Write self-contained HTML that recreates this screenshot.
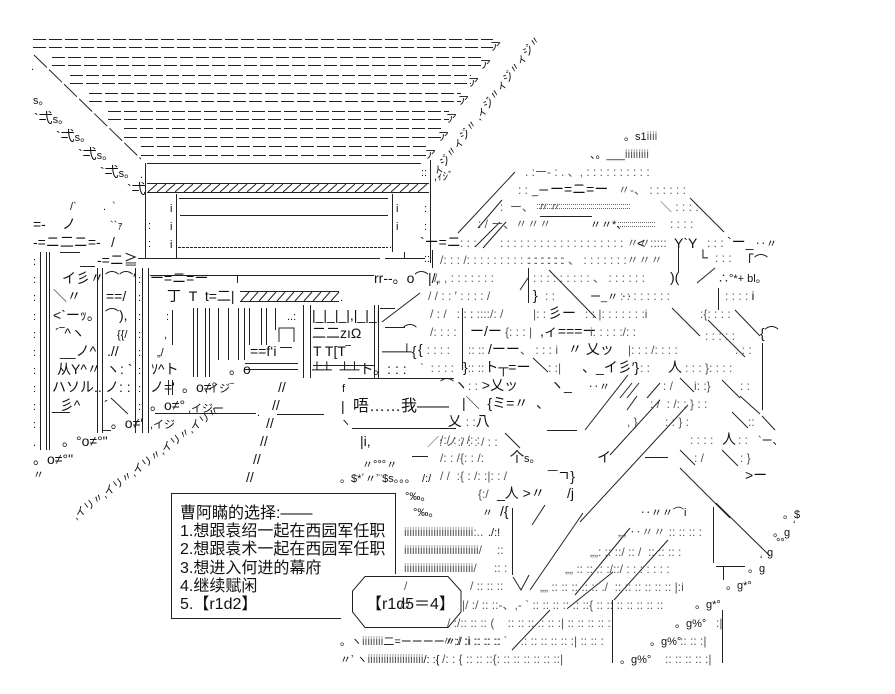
<!DOCTYPE html>
<html><head><meta charset="utf-8">
<style>
html,body{margin:0;padding:0;background:#fff;}
svg{display:block;}
text{font-family:"Liberation Sans","Noto Sans CJK JP",sans-serif;white-space:pre;fill:#111;font-size:14px;}
.s{font-size:11px;}
.d{font-size:12px;fill:#555;}
.c{font-family:"Liberation Sans","Noto Sans CJK SC",sans-serif;font-size:16px;fill:#111;}
line,path,polyline{stroke:#222;stroke-width:1;fill:none;}
.dash{stroke-dasharray:13 3;}
</style></head><body>
<svg width="895" height="694" viewBox="0 0 895 694" xmlns="http://www.w3.org/2000/svg" xml:space="preserve">
<rect width="895" height="694" fill="#fff"/>

<!-- ROOF -->
<g class="dash">
<line class="dash" x1="33" y1="39.5" x2="493" y2="39.5"/><line class="dash" x1="33" y1="47.5" x2="493" y2="47.5"/>
<line class="dash" x1="52" y1="57.5" x2="483" y2="57.5"/><line class="dash" x1="52" y1="65.5" x2="483" y2="65.5"/>
<line class="dash" x1="70" y1="75.5" x2="471" y2="75.5"/><line class="dash" x1="70" y1="83.5" x2="471" y2="83.5"/>
<line class="dash" x1="89" y1="93.5" x2="461" y2="93.5"/><line class="dash" x1="89" y1="101.5" x2="461" y2="101.5"/>
<line class="dash" x1="108" y1="111.5" x2="449" y2="111.5"/><line class="dash" x1="108" y1="119.5" x2="449" y2="119.5"/>
<line class="dash" x1="124" y1="128.5" x2="441" y2="128.5"/><line class="dash" x1="124" y1="137.5" x2="441" y2="137.5"/>
<line class="dash" x1="141" y1="146.5" x2="428" y2="146.5"/><line class="dash" x1="141" y1="155.5" x2="428" y2="155.5"/>
</g>
<text x="490" y="50" class="s">ア</text>
<text x="480" y="68" class="s">ア</text>
<text x="468" y="86" class="s">ア</text>
<text x="458" y="104" class="s">ア</text>
<text x="446" y="122" class="s">ア</text>
<text x="438" y="140" class="s">ア</text>
<text x="425" y="158" class="s">ア</text>
<line x1="34" y1="55" x2="141" y2="159" style="stroke-dasharray:18 3"/>
<text x="31" y="70" class="s">.</text>

<!-- diagonal chain upper right -->
<text x="438" y="176" class="s" transform="rotate(-53 438 176)">ィジ〃ィジ〃 ,ィジ〃ィジ〃ィジ〃</text>

<!-- stairs -->
<text x="33" y="104" class="s">s。</text>
<text x="34" y="123">`弌<tspan class="s">s。</tspan></text>
<text x="56" y="141">`弌<tspan class="s">s。</tspan></text>
<text x="78" y="159">`弌<tspan class="s">s。</tspan></text>
<text x="100" y="177">`弌<tspan class="s">s。</tspan></text>
<text x="127" y="194">`弌</text>

<!-- building -->
<line x1="147" y1="163.5" x2="421" y2="163.5"/>
<text x="140" y="178" class="s">.</text>
<text x="421" y="176" class="s">::</text>
<text x="434" y="180" class="s">,ｨｼﾞ</text>
<line x1="147" y1="183.5" x2="429" y2="183.5"/>
<line x1="147" y1="192.5" x2="429" y2="192.5"/>
<path d="M157,184 L148,192 M166,184 L157,192 M175,184 L166,192 M184,184 L175,192 M193,184 L184,192 M202,184 L193,192 M211,184 L202,192 M220,184 L211,192 M229,184 L220,192 M238,184 L229,192 M247,184 L238,192 M256,184 L247,192 M265,184 L256,192 M274,184 L265,192 M283,184 L274,192 M292,184 L283,192 M301,184 L292,192 M310,184 L301,192 M319,184 L310,192 M328,184 L319,192 M337,184 L328,192 M346,184 L337,192 M355,184 L346,192 M364,184 L355,192 M373,184 L364,192 M382,184 L373,192 M391,184 L382,192 M400,184 L391,192 M409,184 L400,192 M418,184 L409,192 M427,184 L418,192"/>
<line x1="145.5" y1="163" x2="145.5" y2="258"/>
<line x1="430.5" y1="160" x2="430.5" y2="263"/>
<line x1="176.5" y1="194" x2="176.5" y2="258"/>
<line x1="392.5" y1="194" x2="392.5" y2="252"/>
<line x1="179" y1="198.5" x2="388" y2="198.5"/>
<line x1="180" y1="215.5" x2="388" y2="215.5"/>
<line x1="178" y1="247.5" x2="388" y2="247.5" style="stroke-dasharray:3 1"/>
<text x="170" y="212" class="s">i</text><text x="170" y="230" class="s">i</text><text x="170" y="248" class="s">i</text>
<text x="396" y="212" class="s">i</text><text x="396" y="230" class="s">i</text><text x="389" y="248" class="s">.</text>
<text x="148" y="229" class="s">:</text><text x="148" y="247" class="s">:</text>
<text x="424" y="212" class="s">:</text><text x="424" y="230" class="s">:</text><text x="424" y="262" class="s">::</text>
<line x1="138" y1="258.5" x2="380" y2="258.5"/>
<line x1="385" y1="258.5" x2="425" y2="258.5"/>
<line x1="404.5" y1="252" x2="404.5" y2="258"/>

<!-- left tent -->
<text x="70" y="210" class="s">/`</text>
<text x="103" y="210" class="s">.  `</text>
<text x="33" y="229">=‐</text>
<text x="62" y="229">ノ</text>
<text x="110" y="229" class="s">``ｧ</text>
<text x="33" y="247">‐=ニ二ニ=‐</text>
<line x1="60" y1="252.5" x2="80" y2="252.5"/>
<text x="111" y="247">/</text>
<text x="97" y="265">‐=ニ≧</text>
<line x1="80" y1="266.5" x2="95" y2="266.5"/>

<!-- left columns -->
<line x1="40.5" y1="252" x2="40.5" y2="450"/>
<line x1="46.5" y1="252" x2="46.5" y2="450"/>
<line x1="49.5" y1="252" x2="49.5" y2="450"/>
<text x="33" y="265" class="s">:</text><text x="33" y="283" class="s">:</text><text x="33" y="301" class="s">:</text><text x="33" y="320" class="s">:</text><text x="33" y="338" class="s">:</text><text x="33" y="356" class="s">:</text><text x="33" y="374" class="s">:</text><text x="33" y="392" class="s">:</text><text x="33" y="410" class="s">:</text><text x="33" y="428" class="s">:</text><text x="33" y="446" class="s">.</text>
<line x1="97.5" y1="268" x2="97.5" y2="433"/>
<line x1="102.5" y1="268" x2="102.5" y2="433"/>
<line x1="135.5" y1="268" x2="135.5" y2="433"/>
<line x1="142.5" y1="268" x2="142.5" y2="433"/>
<line x1="148.5" y1="268" x2="148.5" y2="433"/>
<text x="138" y="283" class="s">:</text><text x="138" y="301" class="s">:</text><text x="138" y="320" class="s">:</text><text x="138" y="338" class="s">:</text><text x="138" y="356" class="s">:</text><text x="138" y="374" class="s">:</text><text x="138" y="392" class="s">:</text><text x="138" y="410" class="s">:</text>

<text x="62" y="283">イ彡〃</text>
<text x="105" y="283">⌒⌒′</text>
<text x="53" y="301">＼〃</text>
<text x="106" y="301">==/</text>
<text x="53" y="320">&lt;`ーｯ。</text>
<text x="105" y="320">⌒),</text>
<text x="55" y="338">´‾^ヽ</text>
<text x="117" y="338" class="s">{{/</text>
<text x="60" y="356">__ノ^</text>
<text x="107" y="356">.//</text>
<text x="57" y="374">从Y^〃</text>
<text x="106" y="374">ヽ: `</text>
<text x="52" y="392">ハソル..</text>
<text x="105" y="392">ノ: :</text>
<text x="52" y="410">_彡^</text>
<line x1="52" y1="412.5" x2="70" y2="412.5"/>
<text x="104" y="410">´</text>
<line x1="111" y1="398" x2="128" y2="414"/>
<text x="103" y="428">_。o≠′</text>
<text x="62" y="446">。°o≠°"</text>
<text x="33" y="464">。o≠°"</text>
<text x="33" y="478" class="s">〃</text>

<!-- beams / inner -->
<line x1="150" y1="275.5" x2="374" y2="275.5"/>
<text x="150" y="283">ー=ニ=ー</text>
<line x1="237.5" y1="275" x2="237.5" y2="283"/>
<text x="374" y="283">rr‐‐。o⌒</text>
<text x="428" y="283">|/,</text>
<text x="167" y="301">丁  T  t=二|</text>
<line x1="240" y1="291.5" x2="339" y2="291.5"/>
<line x1="240" y1="301.5" x2="339" y2="301.5"/>
<path d="M249,292 L241,301 M258,292 L250,301 M267,292 L259,301 M276,292 L268,301 M285,292 L277,301 M294,292 L286,301 M303,292 L295,301 M312,292 L304,301 M321,292 L313,301 M330,292 L322,301 M339,292 L331,301"/>
<text x="340" y="301" class="s">.</text>
<g>
<line x1="172.5" y1="310" x2="172.5" y2="345"/>
<line x1="193.5" y1="308" x2="193.5" y2="377"/><line x1="197.5" y1="308" x2="197.5" y2="377"/>
<line x1="205.5" y1="308" x2="205.5" y2="377"/><line x1="209.5" y1="308" x2="209.5" y2="377"/>
<line x1="218.5" y1="308" x2="218.5" y2="360"/>
<line x1="228.5" y1="308" x2="228.5" y2="360"/>
<line x1="238.5" y1="308" x2="238.5" y2="360"/>
<line x1="244.5" y1="308" x2="244.5" y2="360"/><line x1="249.5" y1="308" x2="249.5" y2="345"/>
<line x1="261.5" y1="308" x2="261.5" y2="345"/><line x1="266.5" y1="308" x2="266.5" y2="345"/>
<line x1="275.5" y1="308" x2="275.5" y2="330"/>
<line x1="303.5" y1="305" x2="303.5" y2="378"/><line x1="310.5" y1="305" x2="310.5" y2="378"/>
<line x1="374.5" y1="305" x2="374.5" y2="378"/><line x1="378.5" y1="305" x2="378.5" y2="378"/>
</g>
<text x="166" y="320" class="s">:</text><text x="164" y="338" class="s">,</text><text x="157" y="356" class="s">„/</text>
<text x="151" y="374">ｿ^ト</text>
<text x="150" y="392">ノ='</text>
<line x1="168.5" y1="380" x2="168.5" y2="395"/><line x1="172.5" y1="380" x2="172.5" y2="395"/>
<text x="182" y="392">。o≠°</text>
<text x="150" y="410">。o≠°</text>
<text x="287" y="320" class="s">..:</text>
<text x="312" y="320">|_|_|_|,|_|_|</text>
<line x1="380" y1="308.5" x2="395" y2="308.5"/>
<path d="M279,342 L279,328 L294,328 L294,342"/>
<text x="312" y="338">二二zıΩ</text>
<line x1="385" y1="327.5" x2="405" y2="327.5"/><text x="403" y="336">⌒</text>
<text x="250" y="356">==f‘i</text><line x1="280" y1="347.5" x2="292" y2="347.5"/>
<text x="313" y="356">T T[T‾</text>
<text x="382" y="356">──┴{</text>
<text x="229" y="374">。o</text>
<line x1="245" y1="363.5" x2="298" y2="363.5"/><line x1="245" y1="369.5" x2="298" y2="369.5"/>
<text x="312" y="374">┴┴  ┴┴ト。: : :</text>
<line x1="313" y1="365.5" x2="375" y2="365.5"/>

<!-- diagonal chain lower left -->
<text x="205" y="392" class="s">,イジ‾</text>
<text x="188" y="412" class="s">,イジー</text>
<line x1="155" y1="413.5" x2="256" y2="413.5"/>
<text x="257" y="416" class="s">.</text>
<text x="150" y="428" class="s">,イジ</text>
<text x="76" y="520" class="s" transform="rotate(-37 76 520)">,イリ〃,イリ〃,イリ〃,イリ〃,イリ〃</text>

<!-- double slashes -->
<text x="278" y="392">//</text>
<text x="272" y="410">//</text>
<line x1="277" y1="414.5" x2="324" y2="414.5"/>
<text x="266" y="428">//</text>
<text x="260" y="446">//</text>
<text x="253" y="464">//</text>
<text x="246" y="482">//</text>

<!-- speech bubble -->
<line x1="348" y1="378.5" x2="454" y2="378.5"/>
<text x="342" y="392" class="s">f</text>
<text x="341" y="411">|</text>
<text x="353" y="411" class="c">唔……我——</text>
<text x="340" y="426" class="s">ヽ</text>
<line x1="352" y1="428.5" x2="456" y2="428.5"/>
<text x="360" y="446">|i,</text>

<!-- middle column of figure -->
<text x="420" y="247">`ー=ニ</text>
<text x="460" y="247" class="d">: : :</text>
<line x1="475" y1="247" x2="500" y2="222"/>
<line x1="432.5" y1="250" x2="432.5" y2="268"/>
<text x="440" y="264" class="d">/: : : /: : : : : : : : : : : : : : :</text>
<text x="434" y="282" class="d">/, , : : : : : : :</text>
<line x1="520" y1="290" x2="528" y2="278"/><line x1="528.5" y1="268" x2="528.5" y2="303"/>
<text x="428" y="300" class="d">/ / : : ′ : : : : /</text>
<text x="533" y="300">}</text>
<text x="430" y="318" class="d">/ : /   : : :  : : : /</text>
<line x1="462.5" y1="308" x2="462.5" y2="370"/>
<line x1="382" y1="322" x2="420" y2="293"/>
<text x="430" y="336" class="d">/: : : :</text>
<text x="470" y="336">ー/ー</text>
<text x="418" y="354">{ <tspan class="d">: : : :</tspan></text>
<text x="468" y="354" class="d">:: ::</text><text x="488" y="354">/ーー</text>
<text x="420" y="372" class="d">`  : : : :</text>
<text x="463" y="372">}<tspan class="d">:: ::</tspan>ト┬=ー</text>

<!-- head / hat -->
<text x="624" y="140" class="s">。s1<tspan class="d">iiii</tspan></text>
<text x="590" y="158" class="s">、。___<tspan class="d">iiiiiiiii</tspan></text>
<line x1="515" y1="172" x2="458" y2="233"/>
<line x1="502" y1="200" x2="478" y2="228"/>
<line x1="506" y1="222" x2="483" y2="248"/>
<text x="525" y="176" class="d">. :ー‐ : . 、, : : : : : : : : : :</text>
<text x="518" y="194" class="d">: :</text><text x="532" y="194" class="s">_ー</text>
<text x="550" y="194">ー=ニ=ー</text>
<text x="618" y="194" class="d">〃‐、 : : : : : :</text>
<text x="500" y="211" class="d">:  ー、 〃〃</text>
<line x1="537" y1="204.5" x2="630" y2="204.5" style="stroke:#666;stroke-dasharray:1 1"/>
<line x1="537" y1="208.5" x2="630" y2="208.5" style="stroke:#666;stroke-dasharray:1 1"/>
<text x="660" y="211" class="d">＼ : : : :</text>
<line x1="690" y1="198" x2="724" y2="232"/>
<text x="478" y="228" class="d">: / ー、〃〃〃</text>
<line x1="540" y1="216.5" x2="592" y2="216.5"/>
<text x="590" y="228" class="s">〃〃*、</text>
<line x1="618" y1="222.5" x2="656" y2="222.5" style="stroke:#666;stroke-dasharray:1 1"/>
<line x1="618" y1="226.5" x2="656" y2="226.5" style="stroke:#666;stroke-dasharray:1 1"/>
<text x="670" y="228" class="d">: : : :</text>
<text x="500" y="247" class="d">: : : : : : : : : : : : : : : : : : : 〃〃</text>
<text x="637" y="248">&lt;</text>
<text x="650" y="247" class="d">:::::</text>
<text x="674" y="248">Y`Y</text>
<text x="707" y="247" class="d">: : :</text>
<text x="727" y="247">`ー_</text>
<text x="755" y="247" class="s">‥〃</text>
<text x="528" y="264" class="d">: : : : : : 、 : : : : : : :〃〃〃</text>
<line x1="678.5" y1="247" x2="678.5" y2="272"/>
<text x="698" y="262">└</text>
<text x="715" y="262" class="d">: : :</text>
<text x="740" y="266">「⌒</text>
<text x="533" y="282" class="d">: : : : : : : : : 、 : : : : : :</text>
<text x="670" y="282">)(</text>
<line x1="697" y1="283" x2="715" y2="268"/>
<text x="718" y="282" class="s">∴°*+ bl。</text>
<text x="545" y="300" class="d">: :</text>
<line x1="549" y1="270" x2="596" y2="318"/>
<text x="590" y="300" class="s">ー_〃 ‥</text>
<text x="620" y="300" class="d">: : : : : : : :</text>
<line x1="718.5" y1="288" x2="718.5" y2="310"/>
<text x="725" y="300" class="d">: : : : <tspan style="fill:#111">i</tspan></text>
<text x="470" y="318" class="d">: : : /</text>
<text x="533" y="318" class="d">|: :</text><text x="548" y="318">彡ー</text>
<text x="585" y="318" class="d">: : |: : : : : : :i</text>
<line x1="672" y1="308" x2="700" y2="336"/>
<text x="700" y="318" class="d">:{: : : :</text>
<line x1="735" y1="310" x2="760" y2="336"/>

<text x="505" y="336" class="d">{: : : |</text>
<text x="540" y="336">,ィ===ー</text>
<text x="590" y="336" class="d">i: : : : :/: :</text>
<line x1="708" y1="320" x2="745" y2="357"/>
<text x="705" y="340" class="d">: : : : :</text>
<text x="760" y="338">{⌒</text>
<text x="520" y="354" class="d">、 : : : i</text>
<text x="568" y="354">〃 乂ッ</text>
<text x="628" y="354" class="d">|: : : /: : : :</text>
<text x="735" y="354" class="d">: : :</text>
<line x1="762.5" y1="343" x2="762.5" y2="410"/>
<line x1="533" y1="358" x2="548" y2="372"/>
<text x="548" y="372" class="d">: :|</text>
<text x="582" y="372">、_イ彡′}</text>
<text x="640" y="372" class="d">: :</text><text x="668" y="372">人</text>
<text x="685" y="372" class="d">: : : }: : : :</text>
<text x="440" y="390">⌒ヽ<tspan class="d">: :</tspan> &gt;乂ッ</text>
<text x="550" y="390">ヽ_</text>
<text x="588" y="390" class="s">‥〃</text>
<line x1="620" y1="398" x2="632" y2="383"/><line x1="627" y1="398" x2="639" y2="383"/>
<line x1="647" y1="398" x2="660" y2="383"/>
<text x="663" y="390" class="d">: /</text>
<line x1="680" y1="378" x2="694" y2="392"/>
<text x="694" y="390" class="d">i: :}</text>
<line x1="722" y1="380" x2="740" y2="398"/>
<text x="740" y="390" class="d">: :</text>
<text x="462" y="408">|＼  {ミ=〃  、</text>
<line x1="637" y1="396" x2="627" y2="410"/>
<text x="650" y="408" class="d">: /  : /: : } : :</text>
<line x1="740" y1="396" x2="760" y2="414"/>
<text x="440" y="426">_乂 <tspan class="d">: :</tspan>八</text>
<line x1="547" y1="430.5" x2="577" y2="430.5"/>
<text x="627" y="426" class="d">, }</text>
<text x="665" y="426" class="d">: : } :</text>
<line x1="732" y1="412" x2="748" y2="428"/>
<text x="748" y="426" class="d">::</text>
<line x1="762" y1="416" x2="775" y2="430"/>
<text x="440" y="444" class="d">/:/ : : /: :</text>
<line x1="505" y1="433" x2="520" y2="448"/>
<text x="690" y="444" class="d">: : : :</text><text x="722" y="444">人</text><text x="738" y="444" class="d">: :</text>
<text x="758" y="444" class="s">`ー、</text>
<text x="440" y="462" class="d">/: : /{: : /:</text><text x="510" y="462">个<tspan class="s">s。</tspan></text>
<text x="597" y="462">イ</text>
<line x1="645" y1="457.5" x2="668" y2="457.5"/>
<line x1="680" y1="450" x2="695" y2="465"/>
<text x="694" y="462" class="d">: /</text>
<line x1="722" y1="450" x2="738" y2="466"/>
<text x="740" y="462" class="d">: }</text>
<text x="440" y="480" class="d">/ /  :{ : /: :|: : /</text><text x="548" y="481">‾‾ㄱ}</text>
<line x1="680" y1="468" x2="730" y2="518"/>
<text x="745" y="480">&gt;ー</text>
<text x="478" y="498" class="d">{:/</text><text x="497" y="498">_人 &gt;〃</text>
<text x="567" y="498">/j</text>
<text x="482" y="516" class="s">〃</text><text x="500" y="516">/{</text>
<text x="640" y="516" class="s">‥〃〃⌒i</text>
<line x1="716" y1="503" x2="770" y2="556"/>

<!-- long diagonals -->
<line x1="628" y1="375" x2="585" y2="430"/>
<line x1="688" y1="405" x2="580" y2="522"/>
<line x1="660" y1="400" x2="610" y2="455"/>
<line x1="583" y1="513" x2="530" y2="590"/>
<line x1="630" y1="528" x2="575" y2="595"/>
<line x1="668" y1="540" x2="614" y2="600"/>
<line x1="613" y1="572" x2="568" y2="608"/>
<line x1="550" y1="610" x2="512" y2="650"/>
<path d="M513,577 L521,590 L529,575"/>
<line x1="545" y1="505" x2="532" y2="525"/>

<!-- lower right textures -->
<line x1="713.5" y1="507" x2="713.5" y2="563"/>
<text x="618" y="536" class="d">„„ ‥〃〃 :: :: :: :</text>
<text x="590" y="556" class="d">„„: :: ::/ :: /  :: :: :: :</text>
<text x="565" y="573" class="d">„„ :: :: :: :/::/ : : : : : : :</text>
<line x1="716" y1="566.5" x2="745" y2="566.5"/><line x1="723.5" y1="566" x2="723.5" y2="580"/>
<text x="540" y="591" class="d">„„ :: :: :: :: :: ./  :: :: :: :: :: :: |:i</text>
<text x="462" y="609" class="d">|/ :/ :: ::‐、,‐ ` :: :: :: :: :: ::{ :: :: :: :: :: :: ::</text>
<text x="447" y="627" class="d">/ :/:: :: :: (    :: :: :: :: :: :| :: :: :: :: ::</text>
<text x="442" y="645" class="d">〃:/ :i :: :: :: `    :: :: :: :: :: :| :: :: :</text>
<text x="442" y="663" class="d">/: : { :: :: ::{: :: :: :: :: :: ::| </text>
<line x1="612.5" y1="600" x2="612.5" y2="663"/>
<line x1="722.5" y1="610" x2="722.5" y2="663"/>
<text x="680" y="645" class="d">:: :: :|</text>
<text x="665" y="663" class="d">:: :: :: :: :|</text>
<text x="716" y="627" class="d">:|</text>
<!-- g chain -->
<text x="783" y="518" class="s">。$</text>
<text x="793" y="528" class="s">‘</text>
<text x="773" y="536" class="s">。g</text>
<text x="776" y="546" class="s">°°</text>
<text x="767" y="556" class="s">g</text>
<text x="760" y="563" class="s">‘</text>
<text x="748" y="572" class="s">。g</text>
<text x="726" y="589" class="s">。g*°</text>
<text x="695" y="608" class="s">。g*°</text>
<text x="675" y="627" class="s">。g%°</text>
<text x="650" y="645" class="s">。g%°</text>
<text x="620" y="663" class="s">。g%°</text>

<!-- dots near menu -->
<text x="362" y="468" class="s">〃°°°〃</text>
<text x="340" y="482" class="s">。$*´〃ʼ¨$s。。。</text>
<text x="422" y="482" class="s">/:/</text>
<text x="405" y="500" class="s">°‰。</text>
<text x="413" y="516" class="s">°‰。</text>
<text x="427" y="446" class="d">／: ノ:/ : : / : :</text>
<line x1="412" y1="456.5" x2="428" y2="456.5"/>
<text x="404" y="536" class="d">iiiiiiiiiiiiiiiiiiiiiiiiii:..</text><text x="488" y="536" class="s">./:!</text>
<text x="404" y="554" class="d">iiiiiiiiiiiiiiiiiiiiiiiiiiii/</text><text x="497" y="554" class="d">::</text>
<text x="404" y="572" class="d">iiiiiiiiiiiiiiiiiiiiiiiiii/</text><text x="494" y="572" class="d">:: :</text>
<line x1="512.5" y1="508" x2="512.5" y2="575"/>
<text x="404" y="590" class="d">/ </text>
<text x="470" y="590" class="d">/ :: :: ::</text>
<text x="400" y="609" class="d">/:/</text>
<text x="340" y="645" class="s">。ヽ<tspan class="d">iiiiiiii</tspan>二=ーーーー〃:/ <tspan class="d">:i :: :: ::</tspan></text>
<text x="340" y="663" class="s">〃ʼ ヽ<tspan class="d">iiiiiiiiiiiiiiiiiiiii</tspan>/: :{</text>

<!-- MENU -->
<line x1="171" y1="493.5" x2="396" y2="493.5"/>
<line x1="171.5" y1="493" x2="171.5" y2="619"/>
<line x1="171" y1="618.5" x2="341" y2="618.5"/>
<line x1="395.5" y1="493" x2="395.5" y2="574"/>
<text x="180" y="518" class="c">曹阿瞞的选择:——</text>
<text x="180" y="536" class="c">1.想跟袁绍一起在西园军任职</text>
<text x="180" y="554" class="c">2.想跟袁术一起在西园军任职</text>
<text x="180" y="573" class="c">3.想进入何进的幕府</text>
<text x="180" y="591" class="c">4.继续赋闲</text>
<text x="180" y="609" class="c">5.【r1d2】</text>

<!-- octagon -->
<path d="M365,576.5 L448,576.5 L461,591 L461,612 L448,627.5 L365,627.5 L352.5,612 L352.5,591 Z"/>
<text x="366" y="609" class="c">【r1d5＝4】</text>
</svg>
</body></html>
